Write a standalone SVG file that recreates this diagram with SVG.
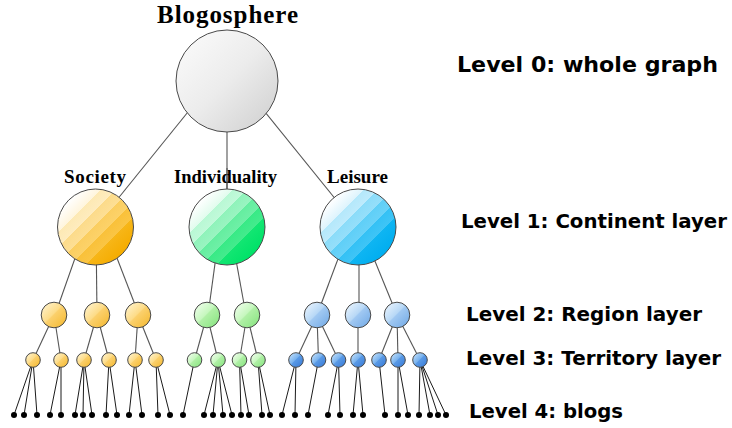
<svg xmlns="http://www.w3.org/2000/svg" width="732" height="428" viewBox="0 0 732 428">
<style>
.c{stroke:#555;stroke-width:1.1;fill:none}
.c4{stroke:#1a1a1a;stroke-width:1;fill:none}
.n{stroke:#4a4a4a;stroke-width:1}
.dot{fill:#000}
.ser{font-family:"Liberation Serif","Times New Roman",serif;font-weight:bold;fill:#000}
.lvl{font-family:"DejaVu Sans","Noto Sans",sans-serif;font-weight:bold;font-size:20px;fill:#000}
</style>
<defs>
<linearGradient id="gRoot" x1="0.1" y1="0.1" x2="0.9" y2="0.9">
<stop offset="0" stop-color="#f9f9f9"/><stop offset="0.5" stop-color="#ececec"/><stop offset="1" stop-color="#d4d4d4"/>
</linearGradient>
<linearGradient id="gSoc" x1="0.15" y1="0.15" x2="0.85" y2="0.85">
<stop offset="0" stop-color="#ffffff"/><stop offset="0.2" stop-color="#fff5dc"/>
<stop offset="0.2" stop-color="#fde9b4"/><stop offset="0.34" stop-color="#feecbf"/>
<stop offset="0.34" stop-color="#fcdb8a"/><stop offset="0.48" stop-color="#fddf95"/>
<stop offset="0.48" stop-color="#fbce60"/><stop offset="0.62" stop-color="#fcd26a"/>
<stop offset="0.62" stop-color="#f9c13a"/><stop offset="0.76" stop-color="#fac544"/>
<stop offset="0.76" stop-color="#f7b618"/><stop offset="1" stop-color="#f5ac00"/>
</linearGradient>
<linearGradient id="gInd" x1="0.15" y1="0.15" x2="0.85" y2="0.85">
<stop offset="0" stop-color="#ffffff"/><stop offset="0.2" stop-color="#e2fcee"/>
<stop offset="0.2" stop-color="#b8f8d4"/><stop offset="0.34" stop-color="#c2f9da"/>
<stop offset="0.34" stop-color="#8ff3ba"/><stop offset="0.48" stop-color="#9af4c1"/>
<stop offset="0.48" stop-color="#64eea0"/><stop offset="0.62" stop-color="#70efa7"/>
<stop offset="0.62" stop-color="#38ea86"/><stop offset="0.76" stop-color="#44eb8d"/>
<stop offset="0.76" stop-color="#12e672"/><stop offset="1" stop-color="#00e268"/>
</linearGradient>
<linearGradient id="gLei" x1="0.15" y1="0.15" x2="0.85" y2="0.85">
<stop offset="0" stop-color="#ffffff"/><stop offset="0.2" stop-color="#def4fd"/>
<stop offset="0.2" stop-color="#b4e8fb"/><stop offset="0.34" stop-color="#bfebfc"/>
<stop offset="0.34" stop-color="#8bdcf9"/><stop offset="0.48" stop-color="#96dffa"/>
<stop offset="0.48" stop-color="#5fcff7"/><stop offset="0.62" stop-color="#6ad2f8"/>
<stop offset="0.62" stop-color="#34c1f5"/><stop offset="0.76" stop-color="#40c5f6"/>
<stop offset="0.76" stop-color="#0fb5f2"/><stop offset="1" stop-color="#00aef0"/>
</linearGradient>
<linearGradient id="gO" x1="0.1" y1="0.1" x2="0.9" y2="0.9">
<stop offset="0" stop-color="#fff1c8"/><stop offset="0.45" stop-color="#fddc88"/>
<stop offset="0.5" stop-color="#fbd06c"/><stop offset="1" stop-color="#f5bc38"/>
</linearGradient>
<linearGradient id="gG" x1="0.1" y1="0.1" x2="0.9" y2="0.9">
<stop offset="0" stop-color="#ecfde8"/><stop offset="0.45" stop-color="#c6f7be"/>
<stop offset="0.5" stop-color="#b0f0a6"/><stop offset="1" stop-color="#8ce684"/>
</linearGradient>
<linearGradient id="gB" x1="0.1" y1="0.1" x2="0.9" y2="0.9">
<stop offset="0" stop-color="#e6f2fd"/><stop offset="0.45" stop-color="#b8d8f6"/>
<stop offset="0.5" stop-color="#a0c8f2"/><stop offset="1" stop-color="#78aee8"/>
</linearGradient>
<linearGradient id="gB3" x1="0.1" y1="0.1" x2="0.9" y2="0.9">
<stop offset="0" stop-color="#bcdcfa"/><stop offset="0.45" stop-color="#78b2ee"/>
<stop offset="0.5" stop-color="#5a9ae6"/><stop offset="1" stop-color="#3c7ed8"/>
</linearGradient>
</defs>

<g id="connectors">
<line class="c" x1="213" y1="81" x2="95" y2="227"/>
<line class="c" x1="227" y1="81" x2="227" y2="227"/>
<line class="c" x1="240" y1="81" x2="358" y2="227"/>
<line class="c" x1="86" y1="227" x2="55" y2="315"/>
<line class="c" x1="96" y1="227" x2="97" y2="315"/>
<line class="c" x1="105" y1="227" x2="139" y2="315"/>
<line class="c" x1="220" y1="227" x2="208" y2="315"/>
<line class="c" x1="230" y1="227" x2="246" y2="315"/>
<line class="c" x1="350" y1="227" x2="317" y2="315"/>
<line class="c" x1="359" y1="227" x2="359" y2="315"/>
<line class="c" x1="361" y1="227" x2="397" y2="315"/>
<line class="c" x1="54" y1="315" x2="33" y2="360"/>
<line class="c" x1="54" y1="315" x2="61" y2="360"/>
<line class="c" x1="97" y1="315" x2="84" y2="360"/>
<line class="c" x1="97" y1="315" x2="109" y2="360"/>
<line class="c" x1="138" y1="315" x2="135" y2="360"/>
<line class="c" x1="138" y1="315" x2="156" y2="360"/>
<line class="c" x1="207" y1="315" x2="194.5" y2="360"/>
<line class="c" x1="207" y1="315" x2="218" y2="360"/>
<line class="c" x1="247" y1="315" x2="239.5" y2="360"/>
<line class="c" x1="247" y1="315" x2="258" y2="360"/>
<line class="c" x1="317" y1="315" x2="296" y2="360"/>
<line class="c" x1="317" y1="315" x2="318.5" y2="360"/>
<line class="c" x1="317" y1="315" x2="338.5" y2="360"/>
<line class="c" x1="358" y1="315" x2="358" y2="360"/>
<line class="c" x1="397" y1="315" x2="379" y2="360"/>
<line class="c" x1="397" y1="315" x2="398" y2="360"/>
<line class="c" x1="397" y1="315" x2="420" y2="360"/>
<line class="c4" x1="33" y1="360" x2="14" y2="415"/>
<line class="c4" x1="33" y1="360" x2="24" y2="415"/>
<line class="c4" x1="33" y1="360" x2="37" y2="415"/>
<line class="c4" x1="61" y1="360" x2="50" y2="415"/>
<line class="c4" x1="61" y1="360" x2="61" y2="415"/>
<line class="c4" x1="84" y1="360" x2="75" y2="415"/>
<line class="c4" x1="84" y1="360" x2="83" y2="415"/>
<line class="c4" x1="84" y1="360" x2="92" y2="415"/>
<line class="c4" x1="109" y1="360" x2="106" y2="415"/>
<line class="c4" x1="109" y1="360" x2="117" y2="415"/>
<line class="c4" x1="135" y1="360" x2="129" y2="415"/>
<line class="c4" x1="135" y1="360" x2="142" y2="415"/>
<line class="c4" x1="156" y1="360" x2="158" y2="415"/>
<line class="c4" x1="156" y1="360" x2="170" y2="415"/>
<line class="c4" x1="194.5" y1="360" x2="183" y2="415"/>
<line class="c4" x1="218" y1="360" x2="204" y2="415"/>
<line class="c4" x1="218" y1="360" x2="213" y2="415"/>
<line class="c4" x1="218" y1="360" x2="223" y2="415"/>
<line class="c4" x1="218" y1="360" x2="232" y2="415"/>
<line class="c4" x1="239.5" y1="360" x2="241" y2="415"/>
<line class="c4" x1="239.5" y1="360" x2="249" y2="415"/>
<line class="c4" x1="258" y1="360" x2="262" y2="415"/>
<line class="c4" x1="258" y1="360" x2="270" y2="415"/>
<line class="c4" x1="296" y1="360" x2="282" y2="415"/>
<line class="c4" x1="296" y1="360" x2="295" y2="415"/>
<line class="c4" x1="318.5" y1="360" x2="308" y2="415"/>
<line class="c4" x1="338.5" y1="360" x2="328" y2="415"/>
<line class="c4" x1="338.5" y1="360" x2="340" y2="415"/>
<line class="c4" x1="358" y1="360" x2="353" y2="415"/>
<line class="c4" x1="358" y1="360" x2="363" y2="415"/>
<line class="c4" x1="379" y1="360" x2="385" y2="415"/>
<line class="c4" x1="398" y1="360" x2="398" y2="415"/>
<line class="c4" x1="398" y1="360" x2="408" y2="415"/>
<line class="c4" x1="420" y1="360" x2="419" y2="415"/>
<line class="c4" x1="420" y1="360" x2="430" y2="415"/>
<line class="c4" x1="420" y1="360" x2="438" y2="415"/>
<line class="c4" x1="420" y1="360" x2="446" y2="415"/>
</g>

<g id="blogosphere">
<circle class="n" cx="227" cy="81" r="51" fill="url(#gRoot)"/>
<text class="ser" x="157" y="23" font-size="25" textLength="141" lengthAdjust="spacing">Blogosphere</text>
</g>
<g id="society">
<circle class="n" cx="95.5" cy="227" r="38" fill="url(#gSoc)"/>
<text class="ser" x="64" y="183" font-size="19" textLength="62" lengthAdjust="spacing">Society</text>
</g>
<g id="individuality">
<circle class="n" cx="227" cy="227" r="38" fill="url(#gInd)"/>
<text class="ser" x="174" y="183" font-size="19" textLength="103" lengthAdjust="spacingAndGlyphs">Individuality</text>
</g>
<g id="leisure">
<circle class="n" cx="358" cy="227" r="38" fill="url(#gLei)"/>
<text class="ser" x="327" y="183" font-size="19" textLength="61" lengthAdjust="spacing">Leisure</text>
</g>
<line class="c" x1="227" y1="168" x2="227" y2="189"/>

<g id="regions">
<g id="r-soc-1"><circle class="n" cx="54" cy="315" r="12.8" fill="url(#gO)"/></g>
<g id="r-soc-2"><circle class="n" cx="97" cy="315" r="12.8" fill="url(#gO)"/></g>
<g id="r-soc-3"><circle class="n" cx="138" cy="315" r="12.8" fill="url(#gO)"/></g>
<g id="r-ind-1"><circle class="n" cx="207" cy="315" r="12.8" fill="url(#gG)"/></g>
<g id="r-ind-2"><circle class="n" cx="247" cy="315" r="12.8" fill="url(#gG)"/></g>
<g id="r-lei-1"><circle class="n" cx="317" cy="315" r="12.8" fill="url(#gB)"/></g>
<g id="r-lei-2"><circle class="n" cx="358" cy="315" r="12.8" fill="url(#gB)"/></g>
<g id="r-lei-3"><circle class="n" cx="397" cy="315" r="12.8" fill="url(#gB)"/></g>
</g>

<g id="territories">
<g id="t1"><circle class="n" cx="33" cy="360" r="7.3" fill="url(#gO)"/></g>
<g id="t2"><circle class="n" cx="61" cy="360" r="7.3" fill="url(#gO)"/></g>
<g id="t3"><circle class="n" cx="84" cy="360" r="7.3" fill="url(#gO)"/></g>
<g id="t4"><circle class="n" cx="109" cy="360" r="7.3" fill="url(#gO)"/></g>
<g id="t5"><circle class="n" cx="135" cy="360" r="7.3" fill="url(#gO)"/></g>
<g id="t6"><circle class="n" cx="156" cy="360" r="7.3" fill="url(#gO)"/></g>
<g id="t7"><circle class="n" cx="194.5" cy="360" r="7.3" fill="url(#gG)"/></g>
<g id="t8"><circle class="n" cx="218" cy="360" r="7.3" fill="url(#gG)"/></g>
<g id="t9"><circle class="n" cx="239.5" cy="360" r="7.3" fill="url(#gG)"/></g>
<g id="t10"><circle class="n" cx="258" cy="360" r="7.3" fill="url(#gG)"/></g>
<g id="t11"><circle class="n" cx="296" cy="360" r="7.3" fill="url(#gB3)"/></g>
<g id="t12"><circle class="n" cx="318.5" cy="360" r="7.3" fill="url(#gB3)"/></g>
<g id="t13"><circle class="n" cx="338.5" cy="360" r="7.3" fill="url(#gB3)"/></g>
<g id="t14"><circle class="n" cx="358" cy="360" r="7.3" fill="url(#gB3)"/></g>
<g id="t15"><circle class="n" cx="379" cy="360" r="7.3" fill="url(#gB3)"/></g>
<g id="t16"><circle class="n" cx="398" cy="360" r="7.3" fill="url(#gB3)"/></g>
<g id="t17"><circle class="n" cx="420" cy="360" r="7.3" fill="url(#gB3)"/></g>
</g>

<g id="blogs">
<circle class="dot" cx="14" cy="415" r="3"/><circle class="dot" cx="24" cy="415" r="3"/><circle class="dot" cx="37" cy="415" r="3"/>
<circle class="dot" cx="50" cy="415" r="3"/><circle class="dot" cx="61" cy="415" r="3"/>
<circle class="dot" cx="75" cy="415" r="3"/><circle class="dot" cx="83" cy="415" r="3"/><circle class="dot" cx="92" cy="415" r="3"/>
<circle class="dot" cx="106" cy="415" r="3"/><circle class="dot" cx="117" cy="415" r="3"/>
<circle class="dot" cx="129" cy="415" r="3"/><circle class="dot" cx="142" cy="415" r="3"/>
<circle class="dot" cx="158" cy="415" r="3"/><circle class="dot" cx="170" cy="415" r="3"/>
<circle class="dot" cx="183" cy="415" r="3"/>
<circle class="dot" cx="204" cy="415" r="3"/><circle class="dot" cx="213" cy="415" r="3"/><circle class="dot" cx="223" cy="415" r="3"/><circle class="dot" cx="232" cy="415" r="3"/>
<circle class="dot" cx="241" cy="415" r="3"/><circle class="dot" cx="249" cy="415" r="3"/>
<circle class="dot" cx="262" cy="415" r="3"/><circle class="dot" cx="270" cy="415" r="3"/>
<circle class="dot" cx="282" cy="415" r="3"/><circle class="dot" cx="295" cy="415" r="3"/>
<circle class="dot" cx="308" cy="415" r="3"/>
<circle class="dot" cx="328" cy="415" r="3"/><circle class="dot" cx="340" cy="415" r="3"/>
<circle class="dot" cx="353" cy="415" r="3"/><circle class="dot" cx="363" cy="415" r="3"/>
<circle class="dot" cx="385" cy="415" r="3"/>
<circle class="dot" cx="398" cy="415" r="3"/><circle class="dot" cx="408" cy="415" r="3"/>
<circle class="dot" cx="419" cy="415" r="3"/><circle class="dot" cx="430" cy="415" r="3"/><circle class="dot" cx="438" cy="415" r="3"/><circle class="dot" cx="446" cy="415" r="3"/>
</g>

<g id="level-labels">
<text class="lvl" x="457" y="72" font-size="22" style="font-size:22px" textLength="261" lengthAdjust="spacingAndGlyphs">Level 0: whole graph</text>
<text class="lvl" x="461" y="228" textLength="266" lengthAdjust="spacingAndGlyphs">Level 1: Continent layer</text>
<text class="lvl" x="466" y="321" textLength="236" lengthAdjust="spacingAndGlyphs">Level 2: Region layer</text>
<text class="lvl" x="466" y="365" textLength="255" lengthAdjust="spacingAndGlyphs">Level 3: Territory layer</text>
<text class="lvl" x="469" y="418" textLength="154" lengthAdjust="spacingAndGlyphs">Level 4: blogs</text>
</g>
</svg>
